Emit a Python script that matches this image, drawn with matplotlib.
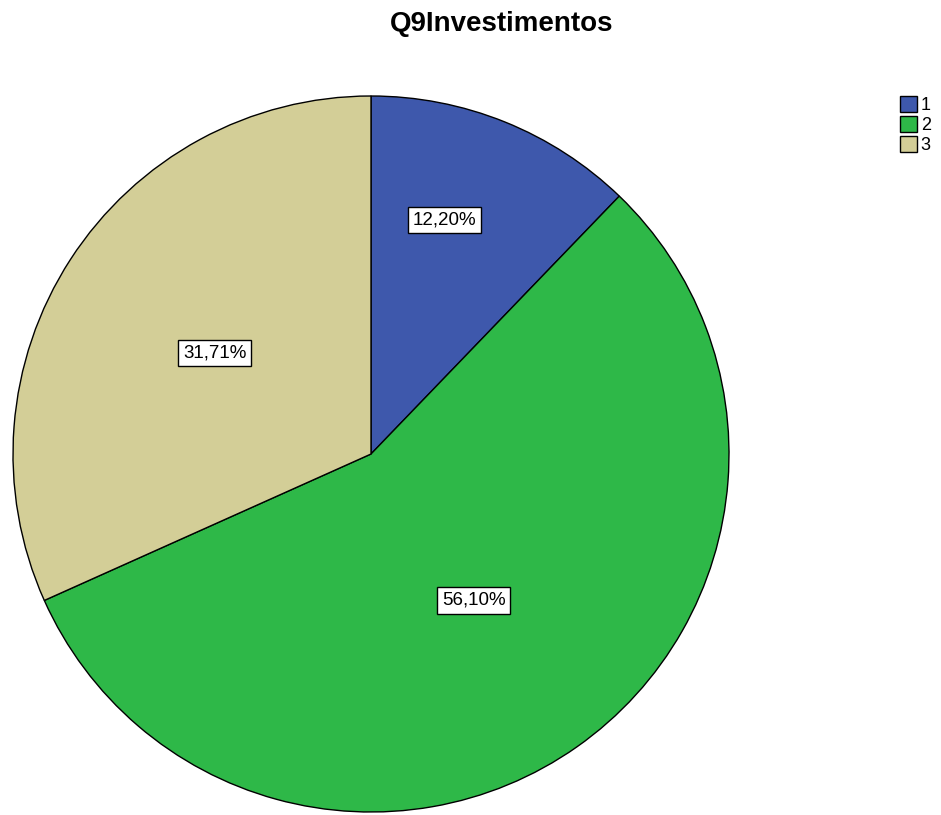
import matplotlib
matplotlib.use("Agg")
import matplotlib.pyplot as plt
import numpy as np

categories = ["1", "2", "3"]
percentages = [12.20, 56.10, 31.71]
colors = ["#3e58ac", "#2eb848", "#d3ce97"]
label_radius = [0.685, 0.50, 0.52]
label_angle_shift = [4.5, 0.0, 0.0]

plt.rcParams["font.family"] = ["Liberation Sans", "DejaVu Sans"]

W, H = 941, 815
fig = plt.figure(figsize=(W / 100, H / 100), dpi=100)

cx, cy, r = 371, 454, 358
ax = fig.add_axes([(cx - r) / W, (H - cy - r) / H, 2 * r / W, 2 * r / H])

wedges, _ = ax.pie(
    percentages,
    colors=colors,
    startangle=90,
    counterclock=False,
    radius=1.0,
    wedgeprops=dict(edgecolor="black", linewidth=1.0),
)
ax.set_xlim(-1.0, 1.0)
ax.set_ylim(-1.0, 1.0)
ax.set_aspect("equal")
ax.axis("off")

for w, pct, lr, da in zip(wedges, percentages, label_radius, label_angle_shift):
    mid = np.deg2rad((w.theta1 + w.theta2) / 2 + da)
    x, y = lr * np.cos(mid), lr * np.sin(mid)
    ax.text(
        x, y, f"{pct:.2f}%".replace(".", ","),
        ha="center", va="center", fontsize=13.5,
        bbox=dict(boxstyle="square,pad=0.25", facecolor="white",
                  edgecolor="black", linewidth=1.0),
    )

fig.text(502 / W, 1 - 24 / H, "Q9Investimentos", ha="center", va="center",
         fontsize=20, fontweight="bold")

fig.legend(
    wedges, categories,
    loc="upper left", bbox_to_anchor=(900 / W, 1 - 96 / H),
    frameon=False, fontsize=13,
    handlelength=0.95, handleheight=0.95,
    labelspacing=0.12, handletextpad=0.2, borderpad=0.0, borderaxespad=0.0,
)

fig.savefig("out.png", dpi=100, facecolor="white")
